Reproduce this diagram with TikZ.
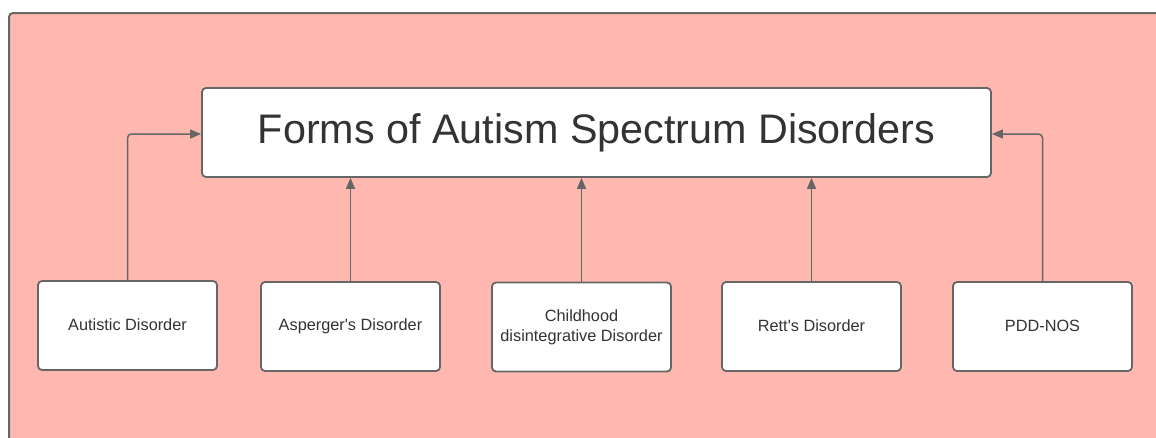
\documentclass[tikz,border=0pt]{standalone}
\usepackage{fontspec}
\setmainfont{Liberation Sans}
\usetikzlibrary{arrows.meta}
\definecolor{bgpink}{HTML}{FFB8B0}
\definecolor{linegray}{HTML}{666666}
\definecolor{textgray}{HTML}{333333}
\tikzset{
  box/.style={draw=linegray, line width=1.8pt, fill=white, rounded corners=4pt, inner sep=0pt, text=textgray, align=center},
  small/.style={box, minimum width=179pt, minimum height=89pt, font=\fontsize{16.3}{20}\selectfont},
  conn/.style={draw=linegray, line width=1.5pt, rounded corners=4pt, -{Triangle[length=11pt,width=9pt]}}
}
\begin{document}
\begin{tikzpicture}[x=1pt,y=-1pt]
\useasboundingbox (0,0) rectangle (1156,437);
\path[fill=bgpink, draw=linegray, line width=2pt, rounded corners=4pt] (9,13) rectangle (1170,450);
\node[box, minimum width=789pt, minimum height=89pt, font=\fontsize{41.3}{46}\selectfont] (title) at (596.5,132.5) {\raisebox{3pt}{Forms of Autism Spectrum Disorders}};
\node[small] (a) at (127.5,325.5) {\raisebox{2pt}{Autistic Disorder}};
\node[small] (b) at (350.5,326.5) {\raisebox{2pt}{Asperger\textquotesingle s Disorder}};
\node[small] (c) at (581.5,327) {\raisebox{2pt}{\shortstack{Childhood\\[5pt]disintegrative Disorder}}};
\node[small] (d) at (811.5,326.5) {\raisebox{2pt}{Rett\textquotesingle s Disorder}};
\node[small] (e) at (1042.5,326.5) {\raisebox{2pt}{PDD-NOS}};
\draw[conn] (a.north) |- ([yshift=-1.5pt]title.west);
\draw[conn] (b.north) -- (b.north |- title.south);
\draw[conn] (c.north) -- (c.north |- title.south);
\draw[conn] (d.north) -- (d.north |- title.south);
\draw[conn] (e.north) |- ([yshift=-1.5pt]title.east);
\end{tikzpicture}
\end{document}
